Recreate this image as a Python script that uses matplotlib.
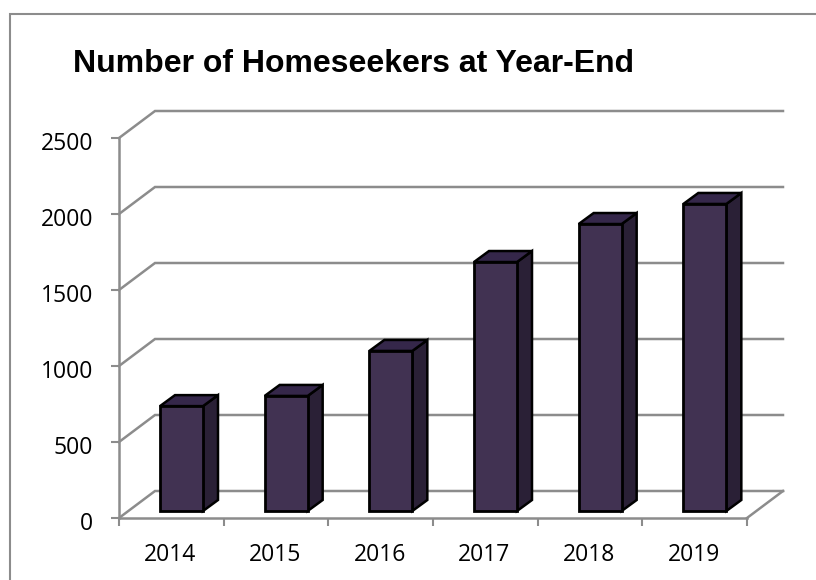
import matplotlib
matplotlib.use('Agg')
import matplotlib.pyplot as plt
from matplotlib.patches import Polygon
from matplotlib.transforms import ScaledTranslation

years = ['2014', '2015', '2016', '2017', '2018', '2019']
homeseekers = [690, 757, 1053, 1638, 1888, 2020]
y_ticks = [0, 500, 1000, 1500, 2000, 2500]

W, H = 816, 580
# plot box in pixels
left, right, top, bottom = 119, 747, 138, 518
wall_dx, wall_dy = 36, 27
bar_dx, bar_dy = 15, 11
bar_w = 43
grey = '#8c8c8c'

fig = plt.figure(figsize=(W / 100, H / 100), dpi=100, facecolor='white')
# outer frame, runs off the picture at right and bottom
fig.add_artist(plt.Line2D([9.5 / W, 9.5 / W, 1], [0, 1 - 14 / H, 1 - 14 / H], color=grey, lw=1.5,
                          solid_joinstyle='miter', zorder=-1))

ax = fig.add_axes([left / W, 1 - bottom / H, (right - left) / W, (bottom - top) / H])
ax.set_xlim(0, len(years))
ax.set_ylim(0, 2500)
ax.patch.set_visible(False)
for s in ax.spines.values():
    s.set_visible(False)

# pixels to data units
px_x = len(years) / (right - left)
px_y = 2500 / (bottom - top)
wx, wy = wall_dx * px_x, wall_dy * px_y
bx, by = bar_dx * px_x, bar_dy * px_y

# back wall gridlines + slanted bits
for v in y_ticks:
    ax.plot([0, wx, len(years) + wx], [v, v + wy, v + wy], color=grey, lw=1.8,
            clip_on=False, solid_joinstyle='miter', zorder=1)
ax.plot([len(years), len(years) + wx], [0, wy], color=grey, lw=1.8, clip_on=False, zorder=1)

# axes lines
ax.plot([0, 0], [0, 2500], color=grey, lw=1.8, clip_on=False, zorder=2)
ax.plot([0, len(years)], [0, 0], color=grey, lw=1.8, clip_on=False, zorder=2)

ax.set_xticks(range(len(years) + 1))
ax.set_xticklabels([])
ax.set_yticks(y_ticks)
ax.tick_params(axis='both', color=grey, width=1.5, length=6)
ax.tick_params(axis='y', labelsize=16.5, pad=12.5)
# labels sit a bit below their ticks
shift = ScaledTranslation(0, -2.5 / 100, fig.dpi_scale_trans)
for t in ax.get_yticklabels():
    t.set_fontfamily('Open Sans')
    t.set_transform(t.get_transform() + shift)

for i, y in enumerate(years):
    ax.text(i + 0.49, -245, y, ha='center', va='center', fontsize=16.5, family='Open Sans')

# 3d bars
x0 = 41 * px_x
y0 = 7 * px_y
w = bar_w * px_x
for i, v in enumerate(homeseekers):
    x1 = i + x0
    y1 = y0 + v
    ax.add_patch(Polygon([(x1 + w, y0), (x1 + w + bx, y0 + by), (x1 + w + bx, y1 + by), (x1 + w, y1)],
                         facecolor='#2a2036', edgecolor='black', lw=1.8, clip_on=False, zorder=3))
    ax.add_patch(Polygon([(x1, y1), (x1 + bx, y1 + by), (x1 + w + bx, y1 + by), (x1 + w, y1)],
                         facecolor='#35274a', edgecolor='black', lw=1.8, clip_on=False, zorder=3))
    ax.bar(x1, v, width=w, bottom=y0, align='edge', color='#413252', edgecolor='black',
           lw=2.0, clip_on=False, zorder=4)

fig.text(73 / W, 1 - 64 / H, 'Number of Homeseekers at Year-End', fontsize=23, fontweight='bold',
         family='Liberation Sans', va='center', ha='left')

fig.savefig('out.png', dpi=100)
